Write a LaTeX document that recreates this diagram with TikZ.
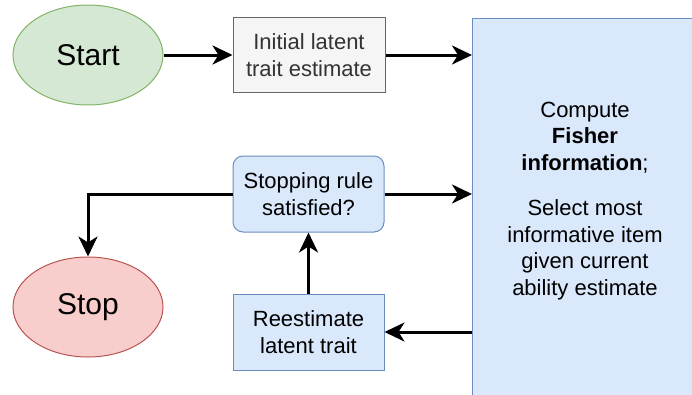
\documentclass[tikz,border=0pt]{standalone}
\usepackage{fontspec}
\setmainfont{Liberation Sans}
\usepackage{xcolor}
\usepackage{tikz}
\usetikzlibrary{shapes.geometric, arrows.meta, positioning, calc}
\definecolor{greenfill}{HTML}{D5E8D4}
\definecolor{greenline}{HTML}{82B366}
\definecolor{redfill}{HTML}{F8CECC}
\definecolor{redline}{HTML}{B85450}
\definecolor{bluefill}{HTML}{DAE8FC}
\definecolor{blueline}{HTML}{6C8EBF}
\definecolor{grayfill}{HTML}{F5F5F5}
\definecolor{grayline}{HTML}{666666}
\definecolor{graytext}{HTML}{333333}
\tikzset{
    terminal/.style={ellipse, line width=1pt, minimum width=150pt, minimum height=100pt, font=\fontsize{30}{36}\selectfont},
    initbox/.style={rectangle, draw=grayline, fill=grayfill, line width=1pt, text=graytext, minimum width=152pt, minimum height=75pt, align=center, font=\fontsize{22}{26.5}\selectfont},
    stepbox/.style={rectangle, draw=blueline, fill=bluefill, line width=1pt, minimum width=151pt, minimum height=76pt, align=center, font=\fontsize{22}{26.5}\selectfont},
    bigtext/.style={align=center, font=\fontsize{22}{26.5}\selectfont},
    arrow/.style={-{Stealth[length=20pt, width=19pt, inset=6pt]}, line width=3pt, black}
}
\begin{document}
\begin{tikzpicture}[x=1pt, y=-1pt]
    \useasboundingbox (0,0) rectangle (692,394);
    \clip (0,0) rectangle (692,394);
    % Nodes
    \node [terminal, draw=greenline, fill=greenfill] (start) at (88,55) {Start};
    \node [initbox] (init) at (309,55) {Initial latent\\trait estimate};
    \node [stepbox, anchor=north west, minimum width=232pt, minimum height=420pt] (compute) at (472,18) {};
    \node [bigtext] (computetext) at (585,201) {Compute\\\textbf{Fisher}\\\textbf{information};\\[19pt]Select most\\informative item\\given current\\ability estimate};
    \node [stepbox, rounded corners=10pt] (rule) at (308.5,194) {Stopping rule\\satisfied?};
    \node [stepbox] (reest) at (308.5,332) {Reestimate\\latent trait};
    \node [terminal, draw=redline, fill=redfill] (stop) at (88,307) {Stop};

    % Arrows
    \draw [arrow] (start.east) -- (start.east -| init.west);
    \draw [arrow] (init.east) -- (init.east -| compute.west);
    \draw [arrow] (rule.east) -- (rule.east -| compute.west);
    \draw [arrow] (reest.east -| compute.west) -- (reest.east);
    \draw [arrow] (reest) -- (rule);
    \draw [arrow] (rule.west) -| (stop.north);
\end{tikzpicture}
\end{document}
